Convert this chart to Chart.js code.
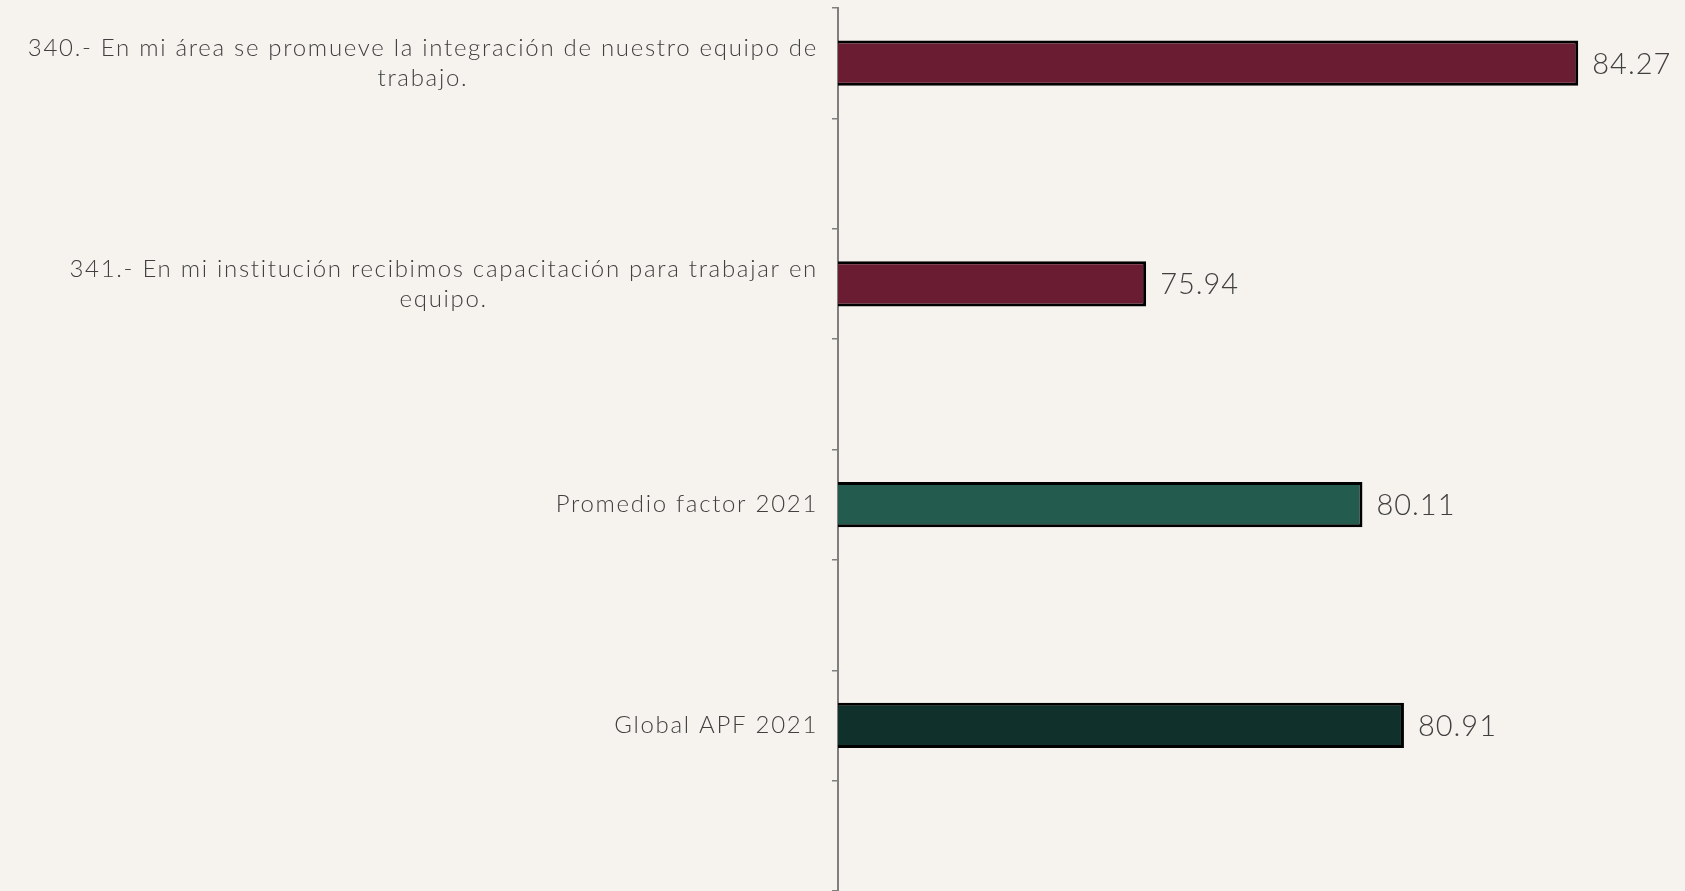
<!DOCTYPE html>
<html>
<head>
<meta charset="utf-8">
<script src="https://cdn.jsdelivr.net/npm/chart.js@4"></script>
<style>
  html, body { margin: 0; padding: 0; overflow: hidden; }
  body { background: #f6f3ef; }
  #caja { width: 1685px; height: 891px; position: relative; }
</style>
</head>
<body>
<div id="caja"><canvas id="grafica"></canvas></div>
<script>
// Datos del factor
const categorias = [
  ["340.- En mi área se promueve la integración de nuestro equipo de", "trabajo."],
  ["341.- En mi institución recibimos capacitación para trabajar en", "equipo."],
  ["Promedio factor 2021"],
  ["Global APF 2021"]
];
const valores = [84.27, 75.94, 80.11, 80.91];
const coloresBarras = ["#691c32", "#691c32", "#235b4e", "#10312b"];

// Excel deja una categoría vacía después de cada barra
const etiquetas = [];
const datos = [];
const colores = [];
for (let i = 0; i < categorias.length; i++) {
  etiquetas.push(categorias[i], "");
  datos.push(valores[i], null);
  colores.push(coloresBarras[i], "transparent");
}

const fuente = "Lato";
const colorTexto = "#404040";

const textos = {
  id: "textos",
  afterDatasetsDraw(chart) {
    const ctx = chart.ctx;
    const meta = chart.getDatasetMeta(0);
    const escalaY = chart.scales.y;
    ctx.save();
    ctx.fillStyle = colorTexto;
    ctx.textBaseline = "middle";

    // valores al final de cada barra
    ctx.font = "300 29px " + fuente;
    ctx.letterSpacing = "1px";
    ctx.textAlign = "left";
    meta.data.forEach((barra, i) => {
      if (datos[i] === null) return;
      ctx.fillText(datos[i].toFixed(2), barra.x + 14, barra.y + 1);
    });

    // etiquetas de categoría: bloque alineado a la derecha, líneas centradas
    ctx.font = "300 24px " + fuente;
    ctx.letterSpacing = "1.7px";
    ctx.textAlign = "center";
    const alto = 30;
    const derecha = escalaY.right - 20;
    etiquetas.forEach((lineas, i) => {
      if (!lineas) return;
      const y = escalaY.getPixelForValue(i);
      const ancho = Math.max(...lineas.map(l => ctx.measureText(l).width));
      const cx = derecha - ancho / 2;
      const y0 = y - (lineas.length - 1) * alto / 2;
      lineas.forEach((l, k) => ctx.fillText(l, cx, y0 + k * alto));
    });
    ctx.restore();
  }
};

new Chart(document.getElementById("grafica"), {
  type: "bar",
  data: {
    labels: etiquetas,
    datasets: [{
      data: datos,
      backgroundColor: colores,
      borderColor: "#000000",
      borderWidth: 3,
      borderSkipped: false,
      barPercentage: 0.41,
      categoryPercentage: 1
    }]
  },
  options: {
    indexAxis: "y",
    responsive: true,
    maintainAspectRatio: false,
    animation: false,
    events: [],
    layout: { padding: { top: 8, right: 17, bottom: 0, left: 0 } },
    plugins: {
      legend: { display: false },
      tooltip: { enabled: false }
    },
    scales: {
      x: {
        display: false,
        min: 70,
        max: 86
      },
      y: {
        ticks: { display: false },
        grid: {
          drawOnChartArea: false,
          drawTicks: true,
          tickLength: 6,
          color: "#7f7f7f",
          lineWidth: 1.5,
          offset: true
        },
        border: { display: true, color: "#7f7f7f", width: 2 },
        afterFit(escala) { escala.width = 838; }
      }
    }
  },
  plugins: [textos]
});
</script>
</body>
</html>
